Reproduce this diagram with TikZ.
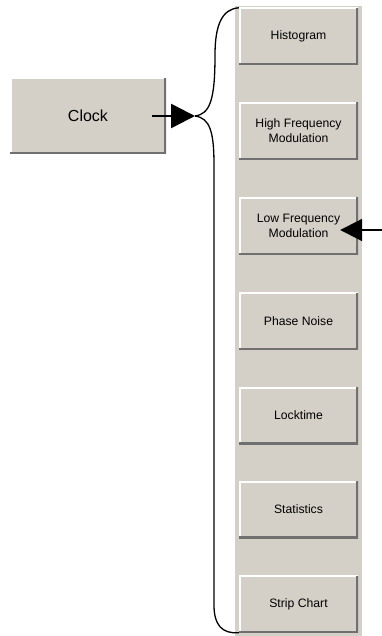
\documentclass[tikz,border=0pt]{standalone}
\usepackage{fontspec}
\setmainfont{Liberation Sans}
\usetikzlibrary{arrows.meta}
\definecolor{btngrey}{HTML}{D4D0C8}
\definecolor{btnshade}{HTML}{707070}
\tikzset{
  winbtn/.style={fill=btngrey, inner sep=0pt, align=center,
    minimum width=119pt, minimum height=57pt,
    font=\fontsize{12.2}{15}\selectfont,
    path picture={
      \draw[white, line width=3pt] (path picture bounding box.south west)
        |- (path picture bounding box.north east);
      \draw[btnshade, line width=3.5pt] (path picture bounding box.south west)
        -| (path picture bounding box.north east);
    }},
  bigarrow/.style={line width=2.5pt, -{Triangle[length=24pt,width=24pt]}},
  bracket/.style={line width=1.3pt},
}
\begin{document}
\begin{tikzpicture}[x=1pt,y=-1pt]
  \useasboundingbox (0,0) rectangle (382,636);
  % grey panel holding the buttons
  \fill[btngrey] (234,5) rectangle (362,636);
  \draw[white, line width=1pt] (234.5,636) -- (234.5,5.5) -- (362,5.5);
  \foreach \nm/\txt/\yc in {hist/Histogram/36.5,
                             hfm/{High Frequency\\Modulation}/131,
                             lfm/{Low Frequency\\Modulation}/226,
                             phase/Phase Noise/321,
                             lock/Locktime/415.5,
                             stats/Statistics/509.5,
                             strip/Strip Chart/604}
    \node[winbtn] (\nm) at (298.5,\yc) {\txt};
  \node[winbtn, minimum width=156pt, minimum height=76pt,
        font=\fontsize{16}{19}\selectfont] (clock) at (88,116) {Clock};
  % arrow into the bracket
  \coordinate (clocktail) at ([xshift=-14pt]clock.east);
  \coordinate (brace) at (195,116);
  \draw[bigarrow] (clocktail) -- (brace);
  \draw[bracket] (hist.north west) .. controls (222,9) and (215,25) .. (215,55)
    .. controls (215,100) and (210,114) .. (brace);
  \draw[bracket] (brace) .. controls (210,118) and (214,132) .. (214,165)
    -- (214,605) .. controls (214,625) and (222,634) .. (strip.south west);
  % arrow pointing at the low frequency button
  \coordinate (lfmin) at (382,230);
  \coordinate (lfmtip) at ([xshift=-18pt,yshift=-4pt]lfm.east);
  \draw[line width=2pt, -{Triangle[length=22pt,width=22pt]}] (lfmin) -- (lfmtip);
\end{tikzpicture}
\end{document}
